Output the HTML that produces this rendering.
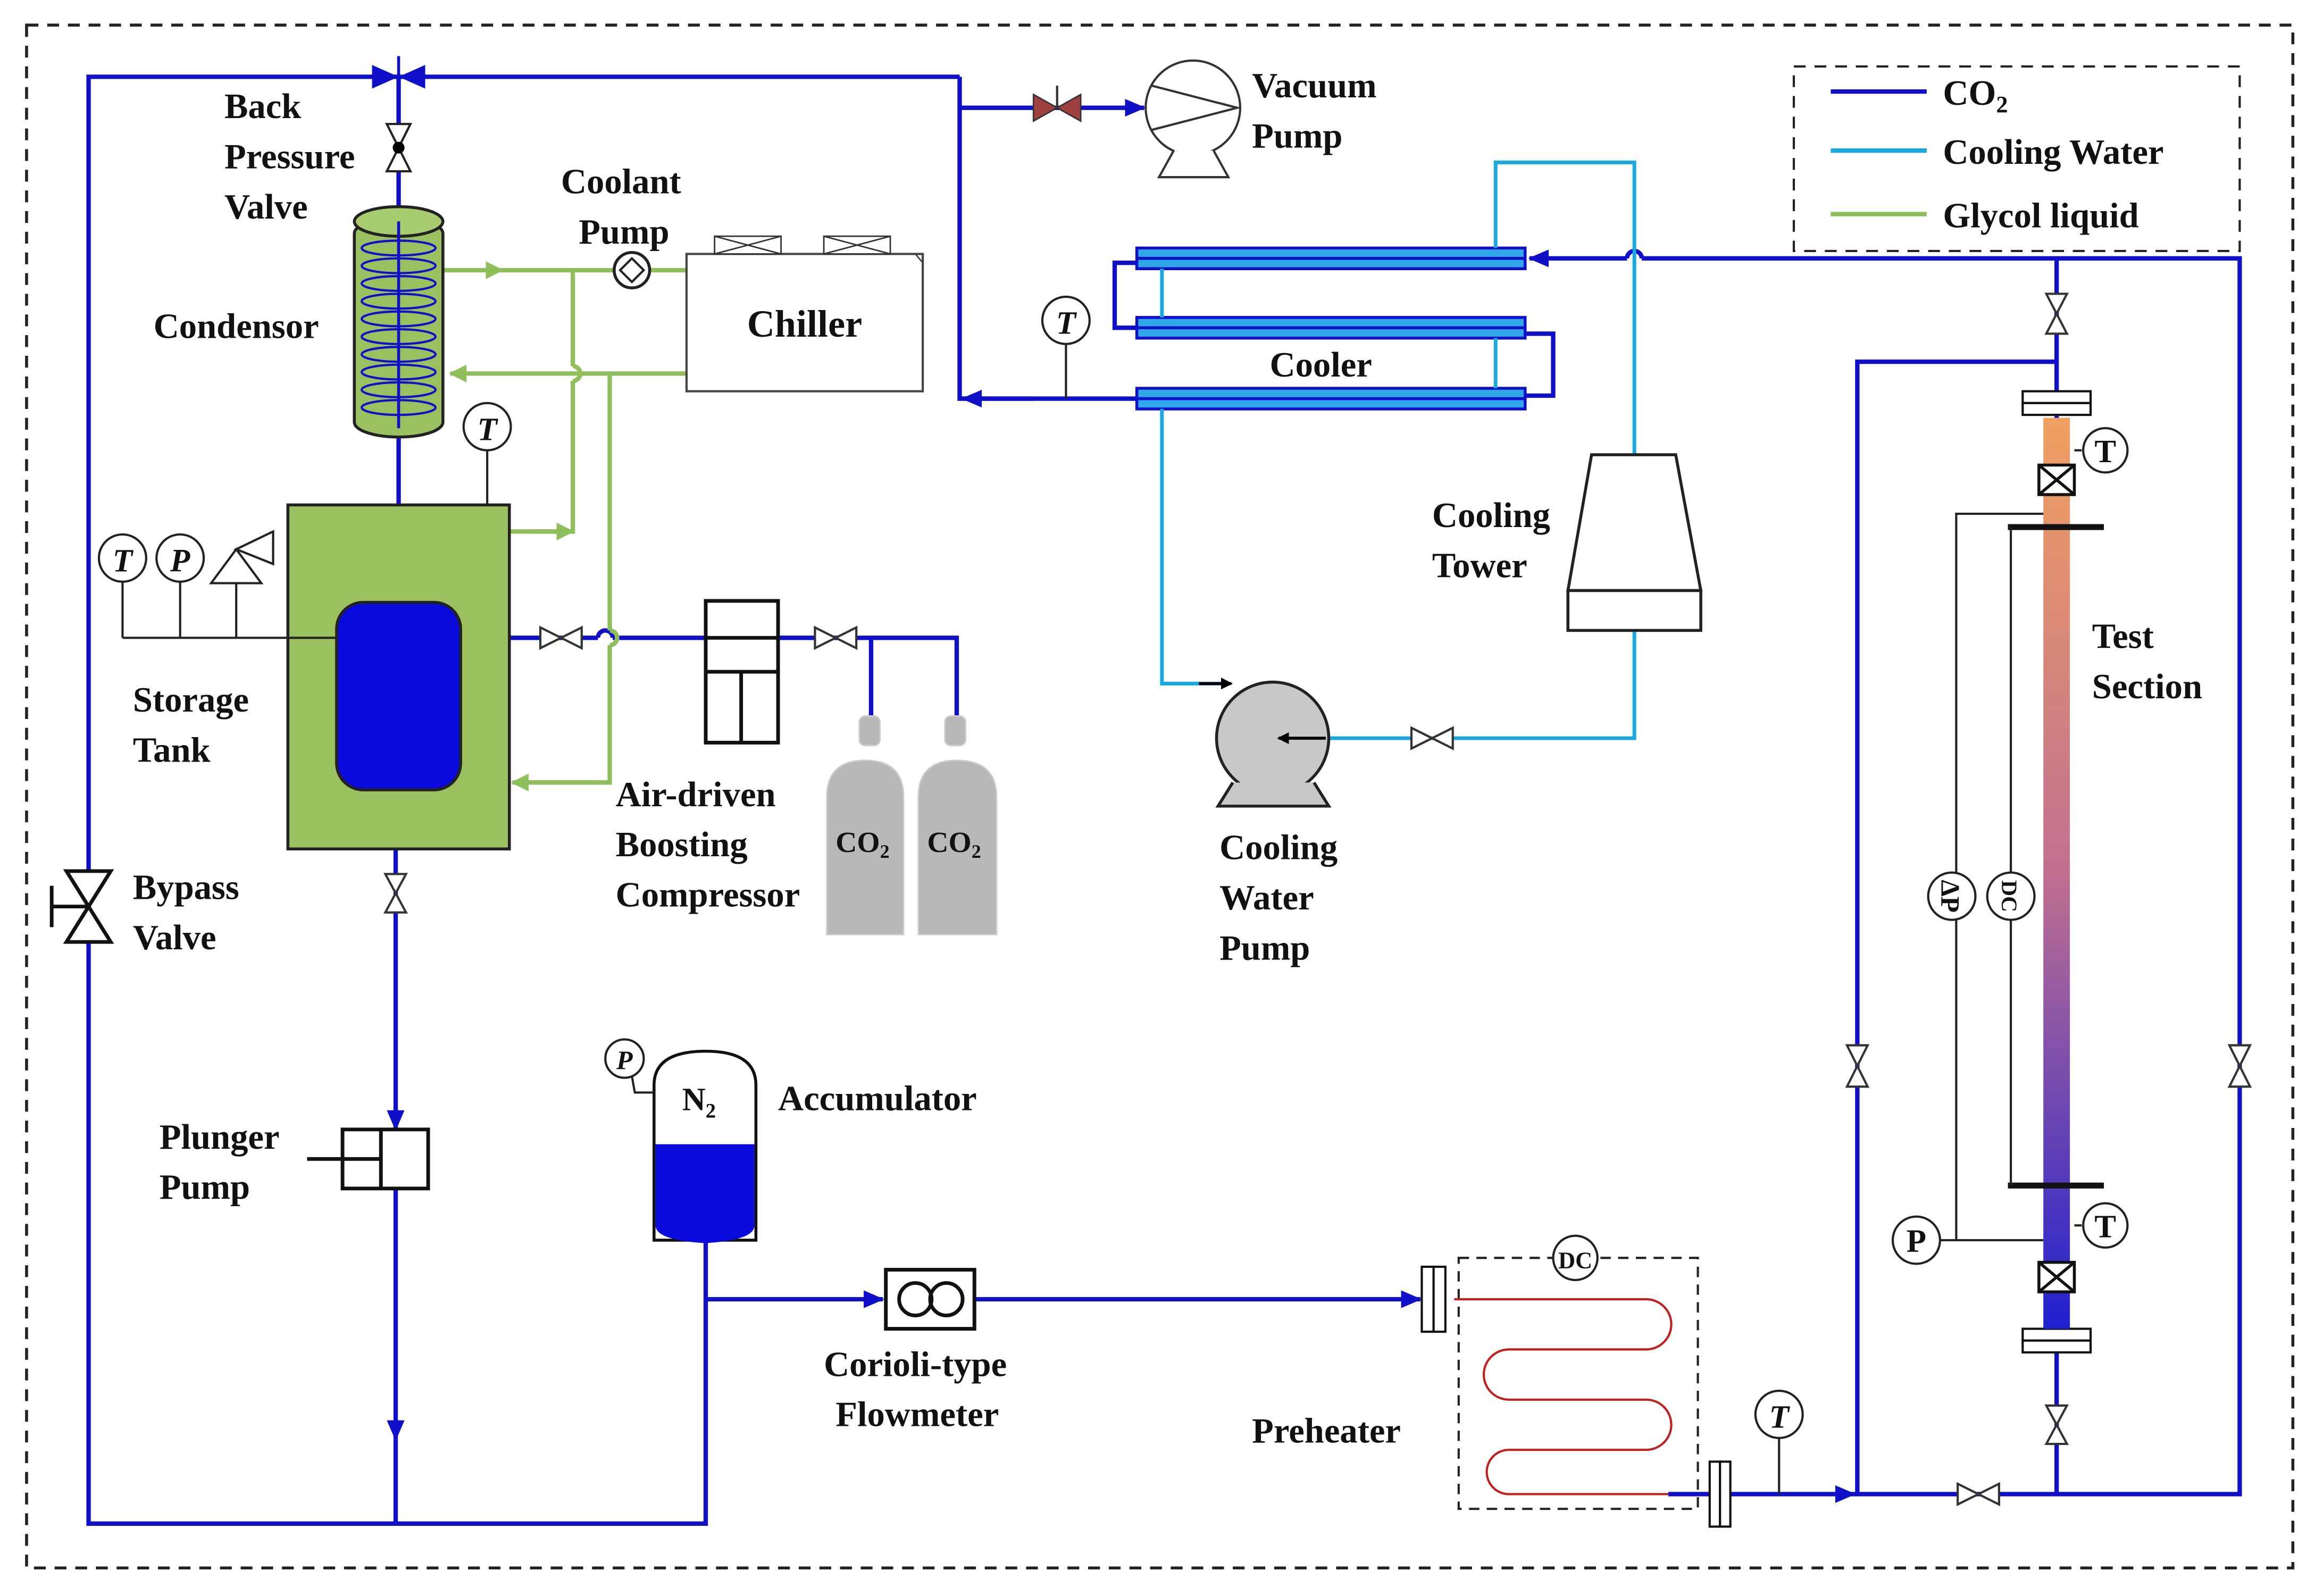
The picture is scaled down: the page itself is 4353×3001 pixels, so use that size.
<!DOCTYPE html>
<html><head><meta charset="utf-8"><style>
html,body{margin:0;padding:0;background:#fff}
svg{display:block}
text{font-family:"Liberation Serif",serif;font-weight:bold;fill:#111}
</style></head><body>
<svg width="4353" height="3001" viewBox="0 0 1568 1081" preserveAspectRatio="none" xmlns="http://www.w3.org/2000/svg">
<defs>
<marker id="ab" markerWidth="14" markerHeight="12" refX="13" refY="6" orient="auto" markerUnits="userSpaceOnUse"><path d="M0,0 L14,6 L0,12 z" fill="#1010c8"/></marker>
<marker id="ag" markerWidth="12" markerHeight="12" refX="11" refY="6" orient="auto" markerUnits="userSpaceOnUse"><path d="M0,0 L12,6 L0,12 z" fill="#8fbf5a"/></marker>
<marker id="ak" markerWidth="8" markerHeight="8" refX="7" refY="4" orient="auto" markerUnits="userSpaceOnUse"><path d="M0,0 L8,4 L0,8 z" fill="#000"/></marker>
<linearGradient id="ts" x1="0" y1="0" x2="0" y2="1"><stop offset="0" stop-color="#f0a060"/><stop offset="0.5" stop-color="#c07090"/><stop offset="1" stop-color="#2020d0"/></linearGradient>
</defs>
<rect x="18" y="17" width="1535" height="1045" fill="none" stroke="#222" stroke-width="2" stroke-dasharray="8,6"/>
<rect x="1215" y="45" width="302" height="125" fill="none" stroke="#222" stroke-width="1.5" stroke-dasharray="8,6"/>
<line x1="1240" y1="62" x2="1305" y2="62" stroke="#1010c8" stroke-width="3"/>
<line x1="1240" y1="102" x2="1305" y2="102" stroke="#1aa8e0" stroke-width="3"/>
<line x1="1240" y1="145" x2="1305" y2="145" stroke="#8fbf5a" stroke-width="3"/>
<text x="1316" y="71" font-size="24">CO<tspan font-size="16" dy="5">2</tspan></text>
<text x="1316" y="111" font-size="24">Cooling Water</text>
<text x="1316" y="154" font-size="24">Glycol liquid</text>

<g fill="none" stroke="#1010c8" stroke-width="3">
<polyline points="650,52 60,52 60,1032 478,1032 478,840"/>
<line x1="270" y1="52" x2="270" y2="140"/>
<line x1="270" y1="295" x2="270" y2="408" marker-end="url(#ab)"/>
<line x1="268" y1="535" x2="268" y2="765" marker-end="url(#ab)"/>
<line x1="268" y1="805" x2="268" y2="975" marker-end="url(#ab)"/>
<line x1="268" y1="975" x2="268" y2="1032"/>
<polyline points="650,52 650,270 770,270"/>
<line x1="700" y1="270" x2="652" y2="270" marker-end="url(#ab)"/>
<line x1="650" y1="73" x2="775" y2="73" marker-end="url(#ab)"/>
<line x1="478" y1="880" x2="598" y2="880" marker-end="url(#ab)"/>
<line x1="660" y1="880" x2="962" y2="880" marker-end="url(#ab)"/>
<line x1="1130" y1="1012" x2="1158" y2="1012"/>
<line x1="1172" y1="1012" x2="1256" y2="1012" marker-end="url(#ab)"/>
<polyline points="1256,1012 1517,1012 1517,175 1112,175"/>
<path d="M1112,175 a5,5 0 0 0 -10,0"/>
<line x1="1102" y1="175" x2="1036" y2="175" marker-end="url(#ab)"/>
<polyline points="1258,1012 1258,245 1393,245"/>
<line x1="1393" y1="175" x2="1393" y2="285"/>
<line x1="1393" y1="900" x2="1393" y2="1012"/>
<polyline points="312,432 405,432"/>
<path d="M405,432 a5,5 0 0 1 10,0"/>
<line x1="415" y1="432" x2="478" y2="432"/>
<polyline points="527,432 648,432 648,485"/>
<line x1="590" y1="432" x2="590" y2="485"/>
<polyline points="770,178 755,178 755,222 770,222"/>
<polyline points="1033,226 1052,226 1052,268 1033,268"/>
</g>
<g stroke="#1010c8" stroke-width="2" fill="#30a8e8">
<rect x="770" y="168" width="263" height="14"/>
<rect x="770" y="215" width="263" height="14"/>
<rect x="770" y="263" width="263" height="14"/>
</g>
<g stroke="#1010c8" stroke-width="2"><line x1="770" y1="175" x2="1033" y2="175"/><line x1="770" y1="222" x2="1033" y2="222"/><line x1="770" y1="270" x2="1033" y2="270"/></g>
<text x="860" y="255" font-size="24">Cooler</text>

<g fill="none" stroke="#1aa8e0" stroke-width="2.5">
<polyline points="1013,168 1013,110 1107,110 1107,308"/>
<polyline points="1107,427 1107,500 900,500"/>
<polyline points="827,463 787,463 787,277"/>
<line x1="787" y1="182" x2="787" y2="215"/>
<line x1="1013" y1="229" x2="1013" y2="263"/>
</g>
<path d="M1078,308 L1135,308 L1152,400 L1062,400 Z" fill="#fff" stroke="#222" stroke-width="2"/>
<rect x="1062" y="400" width="90" height="27" fill="#fff" stroke="#222" stroke-width="2"/>
<text x="970" y="357" font-size="24">Cooling</text><text x="970" y="391" font-size="24">Tower</text>
<circle cx="862" cy="500" r="38" fill="#c8c8c8" stroke="#222" stroke-width="2"/>
<path d="M835,530 L825,546 L900,546 L890,530" fill="#c8c8c8" stroke="#222" stroke-width="2"/>
<line x1="898" y1="500" x2="866" y2="500" stroke="#000" stroke-width="2" marker-end="url(#ak)"/>
<line x1="812" y1="463" x2="834" y2="463" stroke="#000" stroke-width="2" marker-end="url(#ak)"/>
<text x="826" y="582" font-size="24">Cooling</text><text x="826" y="616" font-size="24">Water</text><text x="826" y="650" font-size="24">Pump</text>

<g fill="none" stroke="#8fbf5a" stroke-width="3">
<line x1="300" y1="183" x2="340" y2="183" marker-end="url(#ag)"/>
<line x1="340" y1="183" x2="416" y2="183"/>
<line x1="440" y1="183" x2="465" y2="183"/>
<line x1="465" y1="253" x2="305" y2="253" marker-end="url(#ag)"/>
<polyline points="388,183 388,248"/><path d="M388,248 a5,5 0 0 1 0,10"/>
<polyline points="388,258 388,360 345,360"/>
<line x1="360" y1="360" x2="388" y2="360" marker-end="url(#ag)"/>
<polyline points="413,253 413,427"/><path d="M413,427 a5,5 0 0 1 0,10"/>
<polyline points="413,437 413,530 350,530"/>
<line x1="400" y1="530" x2="347" y2="530" marker-end="url(#ag)"/>
</g>
<circle cx="428" cy="183" r="12" fill="#fff" stroke="#222" stroke-width="2"/>
<path d="M420,183 L428,175 L436,183 L428,191 Z" fill="none" stroke="#222" stroke-width="1.5"/>
<text x="380" y="131" font-size="24">Coolant</text><text x="392" y="165" font-size="24">Pump</text>
<rect x="465" y="172" width="160" height="93" fill="#fff" stroke="#444" stroke-width="1.5"/>
<path d="M465,172 L620,172 L625,178 L625,265" fill="none" stroke="#444" stroke-width="1"/>
<rect x="484" y="160" width="45" height="12" fill="#fff" stroke="#333"/><path d="M484,160 l45,12 M529,160 l-45,12" stroke="#333"/>
<rect x="558" y="160" width="45" height="12" fill="#fff" stroke="#333"/><path d="M558,160 l45,12 M603,160 l-45,12" stroke="#333"/>
<text x="506" y="228" font-size="26">Chiller</text>

<rect x="240" y="148" width="60" height="148" rx="30" ry="10" fill="#9ac060" stroke="#222" stroke-width="2"/>
<ellipse cx="270" cy="150" rx="30" ry="10" fill="#a8cc70" stroke="#222" stroke-width="2"/>
<g fill="none" stroke="#1010c8" stroke-width="1.5">
<ellipse cx="270" cy="168" rx="25" ry="5"/><ellipse cx="270" cy="180" rx="25" ry="5"/><ellipse cx="270" cy="192" rx="25" ry="5"/><ellipse cx="270" cy="204" rx="25" ry="5"/><ellipse cx="270" cy="216" rx="25" ry="5"/><ellipse cx="270" cy="228" rx="25" ry="5"/><ellipse cx="270" cy="240" rx="25" ry="5"/><ellipse cx="270" cy="252" rx="25" ry="5"/><ellipse cx="270" cy="264" rx="25" ry="5"/><ellipse cx="270" cy="276" rx="25" ry="5"/>
</g>
<line x1="270" y1="150" x2="270" y2="290" stroke="#1010c8" stroke-width="2"/>
<text x="104" y="229" font-size="24">Condensor</text>
<path d="M252,44 L270,52 L252,60 Z M288,44 L270,52 L288,60 Z" fill="#1010c8"/>
<line x1="270" y1="38" x2="270" y2="52" stroke="#1010c8" stroke-width="2"/>
<path d="M262,84 L278,84 L270,100 Z M262,116 L278,116 L270,100 Z" fill="#fff" stroke="#222" stroke-width="1.5"/>
<circle cx="270" cy="100" r="4" fill="#000"/>
<text x="152" y="80" font-size="24">Back</text><text x="152" y="114" font-size="24">Pressure</text><text x="152" y="148" font-size="24">Valve</text>

<rect x="195" y="342" width="150" height="233" fill="#9ac060" stroke="#222" stroke-width="2"/>
<rect x="228" y="408" width="84" height="127" rx="18" fill="#0a0adc" stroke="#222" stroke-width="2"/>
<text x="90" y="482" font-size="24">Storage</text><text x="90" y="516" font-size="24">Tank</text>
<line x1="83" y1="432" x2="228" y2="432" stroke="#222" stroke-width="1.5"/>
<g stroke="#222" stroke-width="1.5" fill="#fff">
<line x1="83" y1="394" x2="83" y2="432"/><line x1="122" y1="394" x2="122" y2="432"/><line x1="160" y1="380" x2="160" y2="432"/>
<circle cx="83" cy="378" r="16"/><circle cx="122" cy="378" r="16"/>
<path d="M143,395 L160,372 L177,395 Z"/><path d="M160,372 L185,360 L185,382 Z"/>
<line x1="330" y1="305" x2="330" y2="342"/><circle cx="330" cy="289" r="16"/>
</g>
<text x="83" y="387" font-size="22" font-style="italic" font-weight="normal" text-anchor="middle">T</text>
<text x="122" y="387" font-size="22" font-style="italic" font-weight="normal" text-anchor="middle">P</text>
<text x="330" y="298" font-size="22" font-style="italic" font-weight="normal" text-anchor="middle">T</text>

<g fill="#fff" stroke="#333" stroke-width="1.5">
<path d="M366,425 L366,439 L394,425 L394,439 Z"/>
<path d="M552,425 L552,439 L580,425 L580,439 Z"/>
<path d="M261,592 L275,592 L261,618 L275,618 Z"/>
<path d="M956,493 L956,507 L984,493 L984,507 Z"/>
<path d="M1326,1005 L1326,1019 L1354,1005 L1354,1019 Z"/>
<path d="M1251,708 L1265,708 L1251,736 L1265,736 Z"/>
<path d="M1510,708 L1524,708 L1510,736 L1524,736 Z"/>
<path d="M1386,199 L1400,199 L1386,226 L1400,226 Z"/>
<path d="M1386,952 L1400,952 L1386,978 L1400,978 Z"/>
</g>
<path d="M700,64 L700,82 L732,64 L732,82 Z" fill="#a04040" stroke="#333" stroke-width="1"/>
<line x1="716" y1="73" x2="716" y2="58" stroke="#333" stroke-width="1.5"/>
<circle cx="808" cy="73" r="32" fill="#fff" stroke="#333" stroke-width="1.5"/>
<path d="M780,58 L838,73 L780,88" fill="none" stroke="#333" stroke-width="1.5"/>
<path d="M795,102 L785,120 L832,120 L822,102" fill="#fff" stroke="#333" stroke-width="1.5"/>
<text x="848" y="66" font-size="24">Vacuum</text><text x="848" y="100" font-size="24">Pump</text>
<circle cx="722" cy="217" r="16" fill="#fff" stroke="#222" stroke-width="1.5"/><line x1="722" y1="233" x2="722" y2="270" stroke="#222" stroke-width="1.5"/>
<text x="722" y="226" font-size="22" font-style="italic" font-weight="normal" text-anchor="middle">T</text>

<rect x="478" y="407" width="49" height="96" fill="#fff" stroke="#111" stroke-width="2.5"/>
<line x1="478" y1="432" x2="527" y2="432" stroke="#111" stroke-width="2.5"/>
<line x1="478" y1="455" x2="527" y2="455" stroke="#111" stroke-width="2.5"/>
<line x1="502" y1="455" x2="502" y2="503" stroke="#111" stroke-width="2.5"/>
<text x="417" y="546" font-size="24">Air-driven</text><text x="417" y="580" font-size="24">Boosting</text><text x="417" y="614" font-size="24">Compressor</text>
<g fill="#b8b8b8" stroke="#ccc">
<rect x="582" y="485" width="14" height="20" rx="4"/><path d="M560,633 L560,540 Q560,515 586,515 Q612,515 612,540 L612,633 Z"/>
<rect x="640" y="485" width="14" height="20" rx="4"/><path d="M622,633 L622,540 Q622,515 648,515 Q675,515 675,540 L675,633 Z"/>
</g>
<text x="566" y="577" font-size="20" font-weight="normal">CO<tspan font-size="13" dy="4">2</tspan></text>
<text x="628" y="577" font-size="20" font-weight="normal">CO<tspan font-size="13" dy="4">2</tspan></text>

<path d="M45,590 L75,590 L45,638 L75,638 Z" fill="#fff" stroke="#111" stroke-width="2.5"/>
<line x1="35" y1="614" x2="60" y2="614" stroke="#111" stroke-width="2.5"/><line x1="35" y1="600" x2="35" y2="628" stroke="#111" stroke-width="2.5"/>
<text x="90" y="609" font-size="24">Bypass</text><text x="90" y="643" font-size="24">Valve</text>
<rect x="232" y="765" width="58" height="40" fill="#fff" stroke="#111" stroke-width="2.5"/>
<line x1="258" y1="765" x2="258" y2="805" stroke="#111" stroke-width="2.5"/>
<line x1="208" y1="785" x2="258" y2="785" stroke="#111" stroke-width="2.5"/>
<text x="108" y="778" font-size="24">Plunger</text><text x="108" y="812" font-size="24">Pump</text>
<path d="M443,840 L443,735 Q443,712 478,712 Q512,712 512,735 L512,840 Z" fill="#fff" stroke="#111" stroke-width="2"/>
<path d="M444,775 L511,775 L511,830 Q511,840 478,842 Q444,840 444,830 Z" fill="#0a0adc"/>
<text x="462" y="752" font-size="22" font-weight="normal">N<tspan font-size="14" dy="5">2</tspan></text>
<circle cx="423" cy="717" r="13" fill="#fff" stroke="#222" stroke-width="1.5"/><polyline points="428,729 430,740 443,740" fill="none" stroke="#222" stroke-width="1.5"/>
<text x="423" y="724" font-size="18" font-style="italic" font-weight="normal" text-anchor="middle">P</text>
<text x="527" y="752" font-size="24">Accumulator</text>
<rect x="600" y="860" width="60" height="40" fill="#fff" stroke="#111" stroke-width="2.5"/>
<circle cx="620" cy="880" r="11" fill="none" stroke="#111" stroke-width="2.5"/><circle cx="641" cy="880" r="11" fill="none" stroke="#111" stroke-width="2.5"/>
<text x="558" y="932" font-size="24">Corioli-type</text><text x="566" y="966" font-size="24">Flowmeter</text>
<rect x="963" y="858" width="8" height="44" fill="#fff" stroke="#111" stroke-width="1.5"/><rect x="971" y="858" width="8" height="44" fill="#fff" stroke="#111" stroke-width="1.5"/>
<rect x="1158" y="990" width="7" height="44" fill="#fff" stroke="#111" stroke-width="1.5"/><rect x="1165" y="990" width="7" height="44" fill="#fff" stroke="#111" stroke-width="1.5"/>
<rect x="988" y="852" width="162" height="170" fill="none" stroke="#222" stroke-width="1.5" stroke-dasharray="7,5"/>
<path d="M985,880 L1115,880 A17,17 0 0 1 1115,914 L1022,914 A17,17 0 0 0 1022,948 L1115,948 A17,17 0 0 1 1115,982 L1022,982 A15,15 0 0 0 1022,1012 L1130,1012" fill="none" stroke="#c02020" stroke-width="1.5"/>
<circle cx="1067" cy="852" r="15" fill="#fff" stroke="#222" stroke-width="1.5"/>
<text x="1067" y="859" font-size="16" font-weight="normal" text-anchor="middle">DC</text>
<text x="848" y="977" font-size="24">Preheater</text>
<circle cx="1205" cy="958" r="16" fill="#fff" stroke="#222" stroke-width="1.5"/><line x1="1205" y1="974" x2="1205" y2="1012" stroke="#222" stroke-width="1.5"/>
<text x="1205" y="967" font-size="22" font-style="italic" font-weight="normal" text-anchor="middle">T</text>

<rect x="1370" y="265" width="46" height="8" fill="#fff" stroke="#111" stroke-width="1.5"/><rect x="1370" y="273" width="46" height="8" fill="#fff" stroke="#111" stroke-width="1.5"/>
<rect x="1370" y="900" width="46" height="8" fill="#fff" stroke="#111" stroke-width="1.5"/><rect x="1370" y="908" width="46" height="8" fill="#fff" stroke="#111" stroke-width="1.5"/>
<rect x="1384" y="283" width="18" height="617" fill="url(#ts)"/>
<rect x="1381" y="315" width="24" height="20" fill="#fff" stroke="#111" stroke-width="2"/><path d="M1381,315 L1405,335 M1405,315 L1381,335" stroke="#111" stroke-width="2"/>
<rect x="1381" y="855" width="24" height="20" fill="#fff" stroke="#111" stroke-width="2"/><path d="M1381,855 L1405,875 M1405,855 L1381,875" stroke="#111" stroke-width="2"/>
<line x1="1360" y1="357" x2="1425" y2="357" stroke="#111" stroke-width="4"/>
<line x1="1360" y1="803" x2="1425" y2="803" stroke="#111" stroke-width="4"/>
<g stroke="#222" stroke-width="1.5" fill="none">
<polyline points="1384,348 1325,348 1325,840 1314,840"/>
<line x1="1325" y1="840" x2="1384" y2="840"/>
<line x1="1362" y1="357" x2="1362" y2="803"/>
<line x1="1405" y1="305" x2="1410" y2="305"/><line x1="1405" y1="830" x2="1410" y2="830"/>
</g>
<g fill="#fff" stroke="#222" stroke-width="1.5">
<circle cx="1298" cy="840" r="16"/><circle cx="1426" cy="305" r="15"/><circle cx="1426" cy="830" r="15"/>
<circle cx="1322" cy="607" r="16"/><circle cx="1362" cy="607" r="16"/>
</g>
<text x="1298" y="848" font-size="22" font-weight="normal" text-anchor="middle">P</text>
<text x="1426" y="313" font-size="22" font-weight="normal" text-anchor="middle">T</text>
<text x="1426" y="838" font-size="22" font-weight="normal" text-anchor="middle">T</text>
<text transform="translate(1315,607) rotate(90)" font-size="18" font-weight="normal" text-anchor="middle">ΔP</text>
<text transform="translate(1356,607) rotate(90)" font-size="15" font-weight="normal" text-anchor="middle">DC</text>
<text x="1417" y="439" font-size="24">Test</text><text x="1417" y="473" font-size="24">Section</text>
</svg>
</body></html>
